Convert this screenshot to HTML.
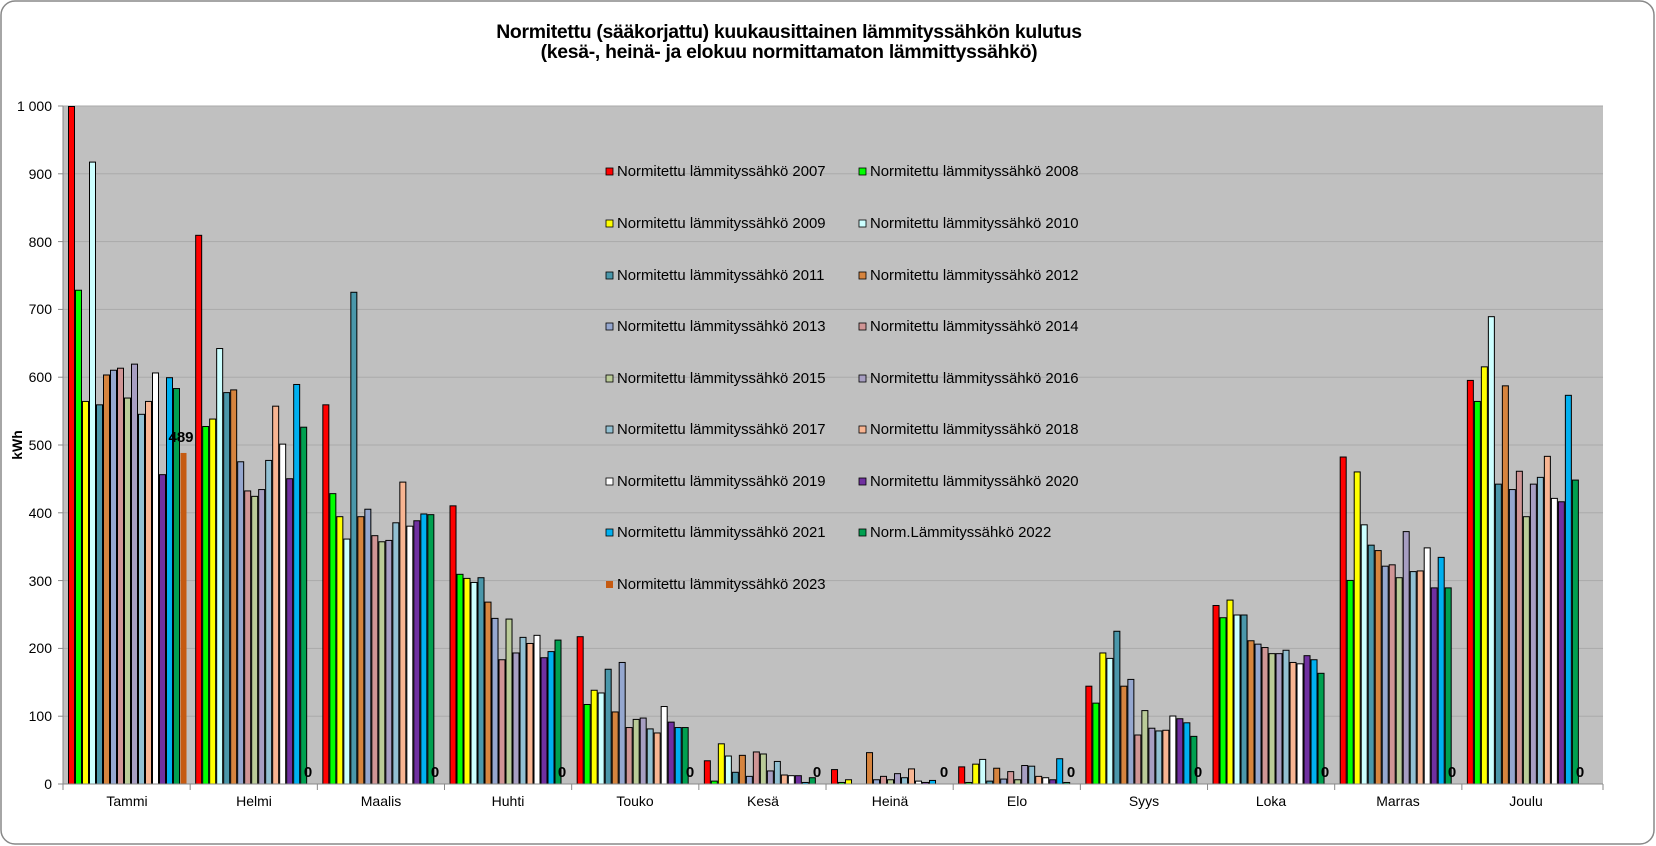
<!DOCTYPE html>
<html><head><meta charset="utf-8"><style>
html,body{margin:0;padding:0;background:#fff;}
svg{display:block;font-family:"Liberation Sans",Arial,sans-serif;}
</style></head><body>
<svg id="c" width="1656" height="846" xmlns="http://www.w3.org/2000/svg">
<rect x="1" y="1" width="1653" height="843" rx="14" fill="#fff" stroke="#888" stroke-width="1.5"/>
<text x="789" y="38" text-anchor="middle" font-size="19.4" font-weight="bold" letter-spacing="-0.3">Normitettu (sääkorjattu) kuukausittainen lämmityssähkön kulutus</text>
<text x="789" y="58" text-anchor="middle" font-size="19.4" font-weight="bold" letter-spacing="-0.3">(kesä-, heinä- ja elokuu normittamaton lämmittyssähkö)</text>
<rect x="63" y="106" width="1540" height="678" fill="#C0C0C0"/>
<g id="grid" stroke="#aaa" stroke-width="1"></g>
<g id="bars"></g>
<line x1="63" y1="106" x2="63" y2="784" stroke="#888"/>
<line x1="63" y1="784" x2="1603" y2="784" stroke="#888"/>
<g id="ticks" stroke="#888"></g>
<g font-size="14" text-anchor="end">
<text x="52" y="111">1 000</text><text x="52" y="179">900</text><text x="52" y="247">800</text><text x="52" y="314">700</text><text x="52" y="382">600</text><text x="52" y="450">500</text><text x="52" y="518">400</text><text x="52" y="586">300</text><text x="52" y="653">200</text><text x="52" y="721">100</text><text x="52" y="789">0</text>
</g>
<text x="22" y="445" font-size="14" font-weight="bold" text-anchor="middle" transform="rotate(-90 22 445)">kWh</text>
<g font-size="14" text-anchor="middle">
<text x="127" y="806">Tammi</text><text x="254" y="806">Helmi</text><text x="381" y="806">Maalis</text><text x="508" y="806">Huhti</text><text x="635" y="806">Touko</text><text x="763" y="806">Kesä</text><text x="890" y="806">Heinä</text><text x="1017" y="806">Elo</text><text x="1144" y="806">Syys</text><text x="1271" y="806">Loka</text><text x="1398" y="806">Marras</text><text x="1526" y="806">Joulu</text>
</g>
<g font-size="15" font-weight="bold" text-anchor="middle">
<text x="181" y="442">489</text>
<text x="308" y="777">0</text><text x="435" y="777">0</text><text x="562" y="777">0</text><text x="690" y="777">0</text><text x="817" y="777">0</text><text x="944" y="777">0</text><text x="1071" y="777">0</text><text x="1198" y="777">0</text><text x="1325" y="777">0</text><text x="1452" y="777">0</text><text x="1580" y="777">0</text>
</g>
<g id="legend"></g>
<g font-size="14.9">
<text x="617" y="176">Normitettu lämmityssähkö 2007</text><text x="870" y="176">Normitettu lämmityssähkö 2008</text>
<text x="617" y="228">Normitettu lämmityssähkö 2009</text><text x="870" y="228">Normitettu lämmityssähkö 2010</text>
<text x="617" y="280">Normitettu lämmityssähkö 2011</text><text x="870" y="280">Normitettu lämmityssähkö 2012</text>
<text x="617" y="331">Normitettu lämmityssähkö 2013</text><text x="870" y="331">Normitettu lämmityssähkö 2014</text>
<text x="617" y="383">Normitettu lämmityssähkö 2015</text><text x="870" y="383">Normitettu lämmityssähkö 2016</text>
<text x="617" y="434">Normitettu lämmityssähkö 2017</text><text x="870" y="434">Normitettu lämmityssähkö 2018</text>
<text x="617" y="486">Normitettu lämmityssähkö 2019</text><text x="870" y="486">Normitettu lämmityssähkö 2020</text>
<text x="617" y="537">Normitettu lämmityssähkö 2021</text><text x="870" y="537">Norm.Lämmityssähkö 2022</text>
<text x="617" y="589">Normitettu lämmityssähkö 2023</text>
</g>
</svg>
<script>
var ns="http://www.w3.org/2000/svg";
function el(p,t,a){var e=document.createElementNS(ns,t);for(var k in a)e.setAttribute(k,a[k]);document.getElementById(p).appendChild(e);return e;}
var Y=function(v){return 784-v*0.678;};
for(var i=1;i<=10;i++){el("grid","line",{x1:63,x2:1603,y1:Y(i*100),y2:Y(i*100)});}
for(var i=0;i<=10;i++){el("ticks","line",{x1:58,x2:63,y1:Y(i*100),y2:Y(i*100)});}
for(var i=0;i<=12;i++){var x=(i==12)?1603:63+i*127.17;el("ticks","line",{x1:x,x2:x,y1:784,y2:790});}
var cols=["#FF0000","#00FF00","#FFFF00","#CCFFFF","#4A97AA","#D6843E","#95A7CF","#D09595","#BACB98","#A79EC2","#92C0D2","#F8B592","#FFFFFF","#7030A0","#00B0F0","#00A050","#C55A11"];
var d=[
[1000,729,565,918,560,604,611,614,570,620,546,565,607,457,600,584,489],
[810,528,539,643,578,582,476,433,425,435,478,558,502,451,590,527,0],
[560,429,395,362,726,395,406,367,358,360,386,446,381,389,399,398,0],
[411,310,304,298,305,269,245,184,244,194,217,208,220,187,196,213,0],
[218,118,139,135,170,107,180,84,96,98,82,76,115,92,84,84,0],
[35,5,60,42,18,43,12,48,45,20,34,14,13,13,3,10,0],
[22,3,7,0,0,47,7,12,7,16,10,23,5,3,6,0,0],
[26,3,30,37,5,24,8,19,7,28,27,12,10,7,38,3,0],
[145,120,194,186,226,145,155,73,109,83,79,80,101,97,91,71,0],
[264,246,272,250,250,212,207,202,193,193,198,180,178,190,184,164,0],
[483,301,461,383,353,345,322,324,305,373,314,315,349,290,335,290,0],
[596,565,616,690,443,588,435,462,395,443,453,484,422,417,574,449,0]];
for(var g=0;g<12;g++){for(var s=0;s<17;s++){var v=d[g][s];if(v<=0)continue;var x=63+g*127.17+5+s*7;var a={x:x+0.5,y:Y(v)+0.5,width:6,height:784-Y(v)-0.5,fill:cols[s]};if(s<16){a.stroke="#000";a["stroke-width"]=1;}el("bars","rect",a);}}
for(var s=0;s<17;s++){var c=s%2,r=Math.floor(s/2);var x=c?859:606,y=[168,220,272,323,375,426,478,529,581][r];var a={x:x,y:y,width:7,height:7,fill:cols[s]};if(s<16){a.stroke="#000";a["stroke-width"]=0.8;}el("legend","rect",a);}
</script>
</body></html>
